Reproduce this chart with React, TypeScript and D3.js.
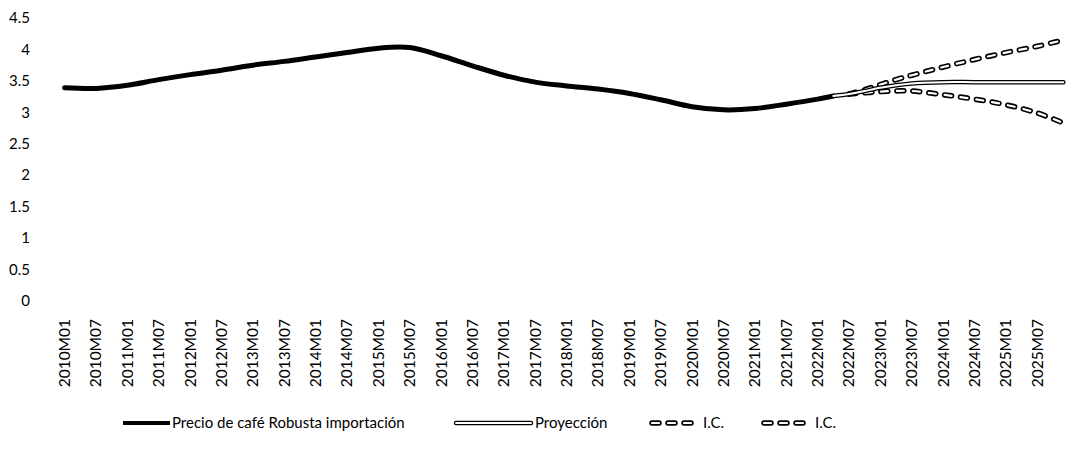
import React from "react";
import * as d3 from "d3";

// ---- Data ----
const firstYear = 2010;
const lastYear = 2025;
const months: string[] = [];
for (let yy = firstYear; yy <= lastYear; yy++) {
  for (let mm = 1; mm <= 12; mm++) months.push(`${yy}M${String(mm).padStart(2, "0")}`);
}
const tickLabels = months.filter((_, i) => i % 6 === 0);
const yTicks = [0, 0.5, 1, 1.5, 2, 2.5, 3, 3.5, 4, 4.5];

const histPeriods = [
  "2010M01", "2010M07", "2011M01", "2011M07", "2012M01", "2012M07", "2013M01", "2013M07",
  "2014M01", "2014M07", "2015M01", "2015M07", "2016M01", "2016M07", "2017M01", "2017M07",
  "2018M01", "2018M07", "2019M01", "2019M07", "2020M01", "2020M07", "2021M01", "2021M07",
  "2022M01", "2022M04",
];
const histValues = [
  3.39, 3.38, 3.43, 3.52, 3.6, 3.67, 3.75, 3.81,
  3.88, 3.95, 4.02, 4.03, 3.9, 3.74, 3.59, 3.48,
  3.42, 3.37, 3.3, 3.2, 3.09, 3.04, 3.06, 3.13,
  3.21, 3.26,
];

const projPeriods = [
  "2022M04", "2022M07", "2022M10", "2023M01", "2023M04", "2023M07",
  "2024M01", "2024M07", "2025M01", "2025M07", "2025M12",
];
const projValues = [3.26, 3.29, 3.34, 3.39, 3.43, 3.46, 3.48, 3.48, 3.48, 3.48, 3.48];

const ciPeriods = [
  "2022M07", "2022M10", "2023M01", "2023M04", "2023M07",
  "2024M01", "2024M07", "2025M01", "2025M07", "2025M12",
];
const ciUpper = [3.29, 3.36, 3.44, 3.52, 3.59, 3.72, 3.84, 3.95, 4.05, 4.15];
const ciLower = [3.29, 3.31, 3.33, 3.34, 3.34, 3.28, 3.21, 3.12, 2.99, 2.83];

const legendLabels = ["Precio de café Robusta importación", "Proyección", "I.C.", "I.C."];

// ---- Layout ----
const W = 1075;
const H = 456;
const FONT = "Lato, 'Noto Sans', sans-serif";

export default function App() {
  const x = d3.scaleBand<string>().domain(months).range([62, 1066]).padding(0);
  const cx = (m: string) => (x(m) as number) + x.bandwidth() / 2;
  const y = d3.scaleLinear().domain([0, 4.5]).range([301, 18]);

  const line = d3
    .line<[string, number]>()
    .x((d) => cx(d[0]))
    .y((d) => y(d[1]))
    .curve(d3.curveCatmullRom.alpha(0.5));

  const zip = (p: string[], v: number[]) => p.map((d, i) => [d, v[i]] as [string, number]);
  const hist = line(zip(histPeriods, histValues)) || "";
  const proj = line(zip(projPeriods, projValues)) || "";
  const up = line(zip(ciPeriods, ciUpper)) || "";
  const lo = line(zip(ciPeriods, ciLower)) || "";

  const legY = 423;
  const dashOuter = { stroke: "#000", strokeWidth: 5.5, strokeDasharray: "7 9", strokeLinecap: "round" as const, fill: "none" };
  const dashInner = { stroke: "#fff", strokeWidth: 2.2, strokeDasharray: "7 9", strokeLinecap: "round" as const, fill: "none" };

  return (
    <svg
      width={W}
      height={H}
      style={{ position: "absolute", left: 0, top: 0, background: "#fff" }}
      fontFamily={FONT}
    >
      <rect x={0} y={0} width={W} height={H} fill="#fff" />
      {/* Y labels */}
      {yTicks.map((t) => (
        <text key={t} x={30} y={y(t)} dy="0.35em" textAnchor="end" fontSize={15} fill="#000">
          {String(t)}
        </text>
      ))}
      {/* X labels */}
      {tickLabels.map((m) => (
        <text
          key={m}
          transform={`translate(${cx(m)},319) rotate(-90)`}
          dy="0.35em"
          textAnchor="end"
          fontSize={15.5}
          fill="#000"
        >
          {m}
        </text>
      ))}
      {/* Series */}
      <path d={hist} fill="none" stroke="#000" strokeWidth={5} strokeLinecap="round" />
      <path d={up} {...dashOuter} />
      <path d={up} {...dashInner} />
      <path d={lo} {...dashOuter} />
      <path d={lo} {...dashInner} />
      <path d={proj} fill="none" stroke="#000" strokeWidth={4.5} strokeLinecap="round" />
      <path d={proj} fill="none" stroke="#fff" strokeWidth={2} strokeLinecap="round" />

      {/* Legend */}
      <line x1={123} x2={170} y1={legY} y2={legY} stroke="#000" strokeWidth={4} />
      <text x={172} y={legY} dy="0.35em" fontSize={15} fill="#000">{legendLabels[0]}</text>

      <line x1={456} x2={531} y1={legY} y2={legY} stroke="#000" strokeWidth={4.5} strokeLinecap="round" />
      <line x1={456} x2={531} y1={legY} y2={legY} stroke="#fff" strokeWidth={2} strokeLinecap="round" />
      <text x={535} y={legY} dy="0.35em" fontSize={15} fill="#000">{legendLabels[1]}</text>

      <line x1={652} x2={698} y1={legY} y2={legY} {...dashOuter} />
      <line x1={652} x2={698} y1={legY} y2={legY} {...dashInner} />
      <text x={703} y={legY} dy="0.35em" fontSize={15} fill="#000">{legendLabels[2]}</text>

      <line x1={764} x2={810} y1={legY} y2={legY} {...dashOuter} />
      <line x1={764} x2={810} y1={legY} y2={legY} {...dashInner} />
      <text x={815} y={legY} dy="0.35em" fontSize={15} fill="#000">{legendLabels[3]}</text>
    </svg>
  );
}
